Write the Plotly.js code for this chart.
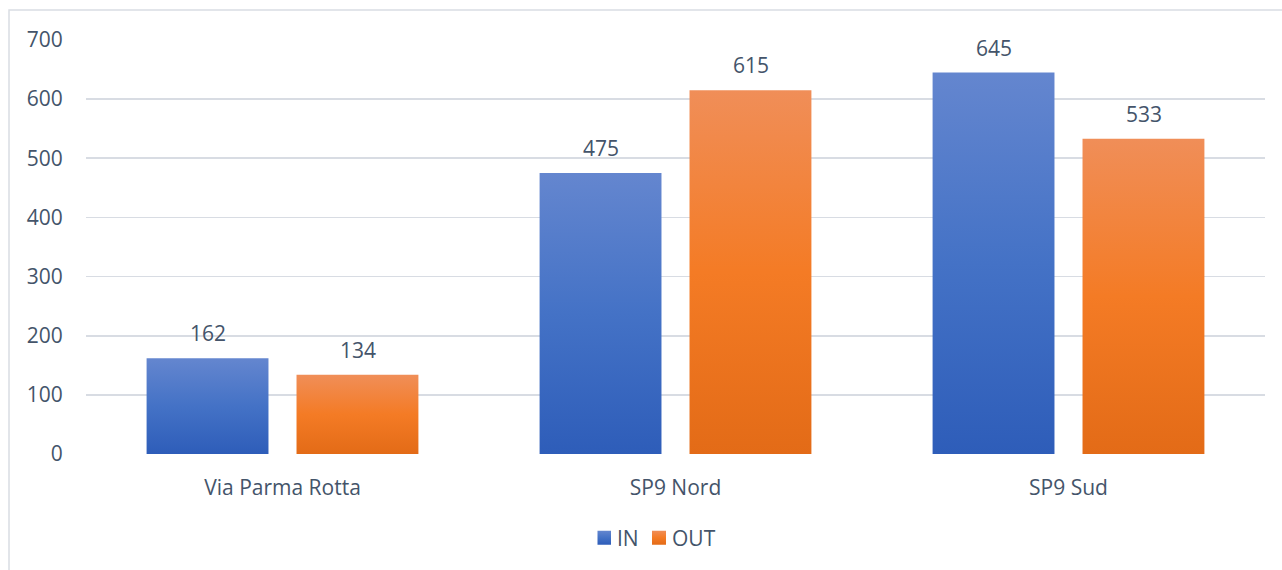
<!DOCTYPE html>
<html>
<head>
<meta charset="utf-8">
<script src="https://cdn.plot.ly/plotly-3.0.1.min.js"></script>
<style>
  html, body { margin: 0; padding: 0; background: #fff; }
  #chart { width: 1282px; height: 570px; }
</style>
</head>
<body>
<div id="chart"></div>
<script>
// Traffic counts per survey point, entering (IN) and leaving (OUT)
const categories = ['Via Parma Rotta', 'SP9 Nord', 'SP9 Sud'];
const inValues = [162, 475, 645];
const outValues = [134, 615, 533];
const seriesNames = ['IN', 'OUT'];
const yTicks = [0, 100, 200, 300, 400, 500, 600, 700];

const textColor = '#44546a';
const font = { family: 'Open Sans, Lato, sans-serif', size: 21, color: textColor };

const traces = [
  { type: 'bar', name: seriesNames[0], x: categories, y: inValues,
    marker: { color: '#4472c4', line: { width: 0 } }, hoverinfo: 'x+y' },
  { type: 'bar', name: seriesNames[1], x: categories, y: outValues,
    marker: { color: '#ed7d31', line: { width: 0 } }, hoverinfo: 'x+y' }
];

// Value labels above each bar, offset by bar slot within the category
const annotations = [];
[inValues, outValues].forEach((vals, s) => {
  vals.forEach((v, i) => {
    annotations.push({
      x: categories[i], y: v, xref: 'x', yref: 'y',
      text: String(v), showarrow: false,
      xshift: s === 0 ? -75 : 75, yshift: 9,
      yanchor: 'bottom', font: font
    });
  });
});

const layout = {
  width: 1282, height: 570,
  margin: { l: 86, r: 17, t: 40, b: 116 },
  paper_bgcolor: '#ffffff', plot_bgcolor: '#ffffff',
  font: font,
  barmode: 'group', bargap: 0.237, bargroupgap: 0.187,
  showlegend: true,
  legend: { orientation: 'h', x: 0.5, xanchor: 'center', y: -0.203, yanchor: 'middle',
            font: font, itemwidth: 30, tracegroupgap: 0 },
  xaxis: {
    type: 'category', showgrid: false, zeroline: false, showline: false,
    ticks: 'outside', ticklen: 15, tickcolor: 'rgba(0,0,0,0)', tickfont: font
  },
  yaxis: {
    range: [0, 700], tickvals: yTicks, ticktext: yTicks.map(String),
    showgrid: true, gridcolor: '#d8dce3', gridwidth: 1.8,
    zeroline: false, showline: false,
    ticks: 'outside', ticklen: 18, tickcolor: 'rgba(0,0,0,0)', tickfont: font
  },
  annotations: annotations,
  shapes: [{
    type: 'rect', xref: 'paper', yref: 'paper',
    x0: -0.0653, x1: 1.03, y0: -0.35, y1: 1.0725,
    line: { color: '#d9dde3', width: 1.5 }, fillcolor: 'rgba(0,0,0,0)', layer: 'below'
  }]
};

Plotly.newPlot('chart', traces, layout, { displayModeBar: false, staticPlot: true }).then(gd => {
  // Vertical shading on the bars: lighter at the top, deeper at the base
  const svg = gd.querySelector('svg.main-svg');
  const ns = 'http://www.w3.org/2000/svg';
  const defs = document.createElementNS(ns, 'defs');
  const grads = {
    gIn: ['#6486cf', '#4472c6', '#2e5db9'],
    gOut: ['#f08e58', '#f47b25', '#e36b17']
  };
  Object.entries(grads).forEach(([id, stops]) => {
    const g = document.createElementNS(ns, 'linearGradient');
    g.setAttribute('id', id);
    g.setAttribute('x1', '0'); g.setAttribute('y1', '0');
    g.setAttribute('x2', '0'); g.setAttribute('y2', '1');
    stops.forEach((c, k) => {
      const st = document.createElementNS(ns, 'stop');
      st.setAttribute('offset', (k * 50) + '%');
      st.setAttribute('stop-color', c);
      g.appendChild(st);
    });
    defs.appendChild(g);
  });
  svg.insertBefore(defs, svg.firstChild);
  const ids = ['gIn', 'gOut'];
  gd.querySelectorAll('.barlayer .trace.bars').forEach((tr, i) => {
    tr.querySelectorAll('path').forEach(p => { p.style.fill = 'url(#' + ids[i] + ')'; });
  });

  // Compact legend: square swatch right next to its label, items packed tightly
  const items = gd.querySelectorAll('.legend .traces');
  const swatchCenters = [604, 659];
  items.forEach((tr, i) => {
    tr.querySelectorAll('.legendpoints path').forEach(p => {
      p.setAttribute('d', 'M7,7H-7V-7H7Z');
      p.style.fill = 'url(#' + ids[i] + ')';
    });
    const txt = tr.querySelector('text.legendtext');
    if (txt) txt.setAttribute('x', 33);
    const ctm = tr.getCTM();
    const m = /translate\(([-\d.]+)[ ,]*([-\d.]+)?\)/.exec(tr.getAttribute('transform') || '');
    const tx = m ? parseFloat(m[1]) : 0;
    const ty = m && m[2] ? parseFloat(m[2]) : 0;
    // swatch sits at local x = 20 inside each item
    const currentCenter = ctm.e + 20;
    const dx = swatchCenters[i] - currentCenter;
    tr.setAttribute('transform', 'translate(' + (tx + dx) + ',' + ty + ')');
  });
});
</script>
</body>
</html>
